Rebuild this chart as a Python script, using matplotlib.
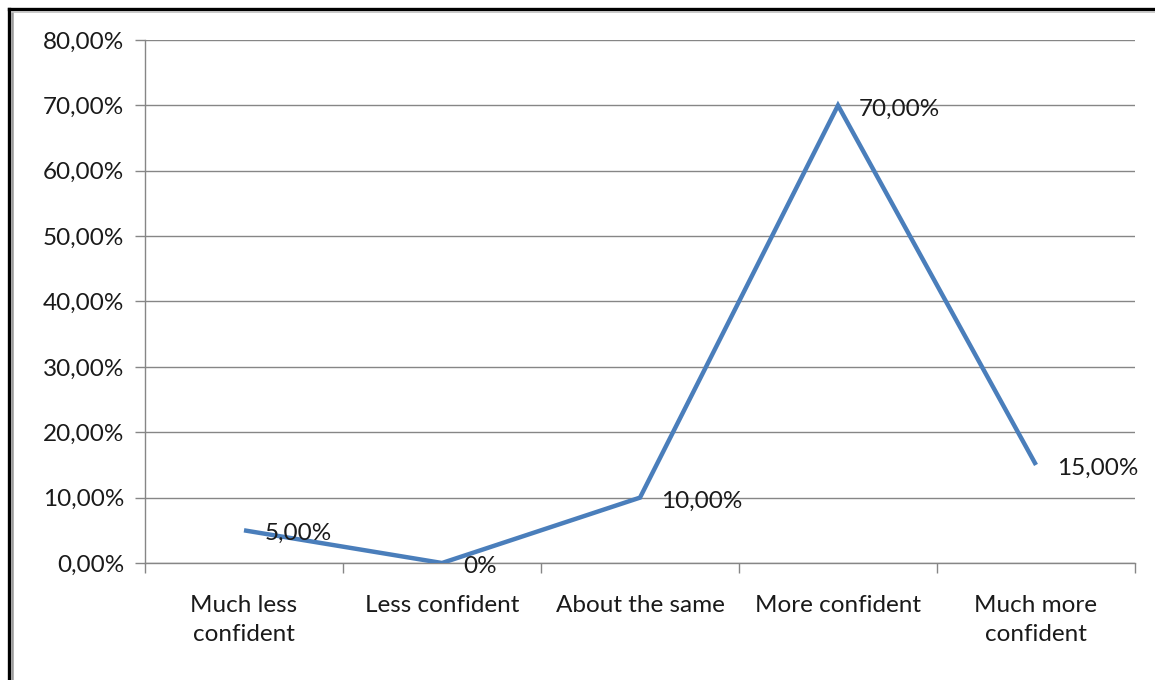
import matplotlib.pyplot as plt
from matplotlib.lines import Line2D

categories = ["Much less\nconfident", "Less confident", "About the same",
              "More confident", "Much more\nconfident"]
values = [5, 0, 10, 70, 15]
point_labels = ["5,00%", "0%", "10,00%", "70,00%", "15,00%"]
y_ticks = [0, 10, 20, 30, 40, 50, 60, 70, 80]
y_tick_labels = ["%d,00%%" % t for t in y_ticks]

plt.rcParams['font.family'] = ['Lato', 'DejaVu Sans']

W, H = 1155, 680
FS = 17.5
fig = plt.figure(figsize=(W / 100, H / 100), dpi=100)
ax = fig.add_axes([145 / W, 1 - 563 / H, (1135 - 145) / W, (563 - 40) / H])

grid_c = '#868686'
line_c = '#4A7EBB'
text_c = '#1a1a1a'

x = range(len(categories))
ax.plot(x, values, color=line_c, lw=3.2, solid_capstyle='butt', solid_joinstyle='miter', zorder=3)
for xi, v, lab in zip(x, values, point_labels):
    ax.annotate(lab, (xi, v), xytext=(15, -2.5), textcoords='offset points',
                ha='left', va='center', fontsize=FS, color=text_c, zorder=4)

ax.set_xlim(-0.5, len(categories) - 0.5)
ax.set_ylim(0, 80)
ax.set_yticks(y_ticks)
ax.set_yticklabels(y_tick_labels, color=text_c)
ax.yaxis.grid(True, color=grid_c, lw=1)
ax.set_axisbelow(True)

# category ticks sit on the boundaries, labels in the middle
ax.set_xticks([i - 0.5 for i in range(len(categories) + 1)])
ax.set_xticklabels([])
ax.set_xticks(list(x), minor=True)
ax.set_xticklabels(categories, minor=True, fontsize=FS, linespacing=1.5, color=text_c)
ax.tick_params(axis='x', which='major', length=7, color=grid_c, width=1)
ax.tick_params(axis='x', which='minor', length=0, pad=23)
ax.tick_params(axis='y', length=7, color=grid_c, width=1, labelsize=FS, pad=8)

for s in ['top', 'right']:
    ax.spines[s].set_visible(False)
for s in ['left', 'bottom']:
    ax.spines[s].set_color(grid_c)
    ax.spines[s].set_linewidth(1)

# frame along top and left edges
fig.add_artist(Line2D([8.5 / W, 8.5 / W], [0, 1 - 8.5 / H], color='black', lw=2.4, transform=fig.transFigure))
fig.add_artist(Line2D([8.5 / W, 1], [1 - 8.5 / H, 1 - 8.5 / H], color='black', lw=2.4, transform=fig.transFigure))
fig.add_artist(Line2D([11.5 / W, 11.5 / W], [0, 1 - 11.5 / H], color='#9a9a9a', lw=1.8, transform=fig.transFigure))
fig.add_artist(Line2D([11.5 / W, 1], [1 - 11.5 / H, 1 - 11.5 / H], color='#c0c0c0', lw=1.2, transform=fig.transFigure))

fig.savefig('out.png', dpi=100)
